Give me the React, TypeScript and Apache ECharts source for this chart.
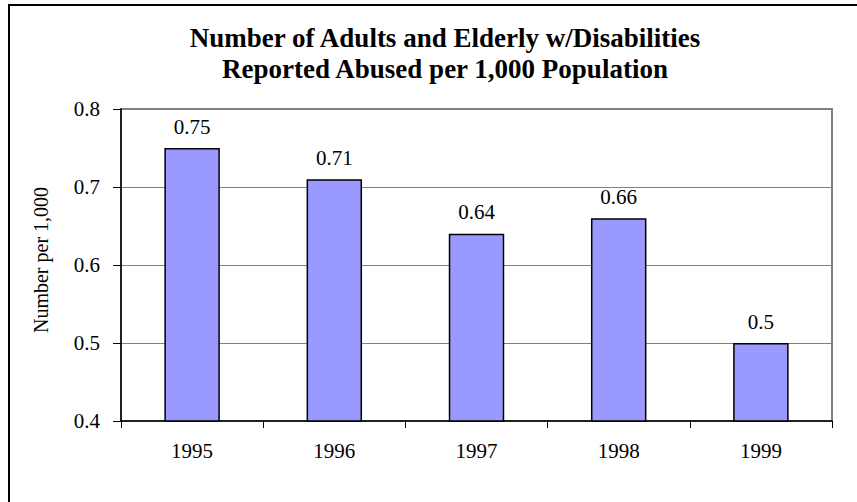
import React, { useEffect, useRef } from "react";
import * as echarts from "echarts";

const categories = ["1995", "1996", "1997", "1998", "1999"];
const values = [0.75, 0.71, 0.64, 0.66, 0.5];
const yTicks = [0.4, 0.5, 0.6, 0.7, 0.8];
const titleLines = [
  "Number of Adults and Elderly w/Disabilities",
  "Reported Abused per 1,000 Population",
];
const yAxisName = "Number per 1,000";

const FONT = "'Liberation Serif', 'Times New Roman', serif";

export default function App() {
  const ref = useRef<HTMLDivElement>(null);
  useEffect(() => {
    if (!ref.current) return;
    const chart = echarts.init(ref.current, null, { renderer: "svg" });
    chart.setOption({
      animation: false,
      backgroundColor: "#fff",
      title: {
        text: titleLines.join("\n"),
        left: 440,
        top: 17,
        textAlign: "center",
        textStyle: {
          fontFamily: FONT,
          fontWeight: "bold",
          fontSize: 27,
          lineHeight: 31.5,
          color: "#000",
        },
      },
      graphic: [
        {
          type: "rect",
          shape: { x: 9, y: 5, width: 900, height: 600 },
          style: { fill: "none", stroke: "#000", lineWidth: 2 },
          silent: true,
          z: 100,
        },
      ],
      grid: {
        left: 121,
        top: 109,
        right: 25,
        bottom: 81,
        show: true,
        borderColor: "#808080",
        borderWidth: 2,
        backgroundColor: "transparent",
      },
      xAxis: {
        type: "category",
        data: categories,
        boundaryGap: true,
        axisLine: { lineStyle: { color: "#000", width: 1.5 } },
        axisTick: { show: true, length: 7, inside: false, lineStyle: { color: "#000" } },
        axisLabel: {
          fontFamily: FONT,
          fontSize: 21,
          color: "#000",
          margin: 19,
        },
        splitLine: { show: false },
      },
      yAxis: {
        type: "value",
        min: yTicks[0],
        max: yTicks[yTicks.length - 1],
        interval: 0.1,
        name: yAxisName,
        nameLocation: "middle",
        nameGap: 70,
        nameRotate: 90,
        nameTextStyle: {
          fontFamily: FONT,
          fontSize: 20,
          color: "#000",
          padding: [0, 0, 0, 10],
        },
        axisLine: { show: true, lineStyle: { color: "#000", width: 1.5 } },
        axisTick: { show: true, length: 8, inside: false, lineStyle: { color: "#000" } },
        axisLabel: {
          fontFamily: FONT,
          fontSize: 21,
          color: "#000",
          margin: 21,
          formatter: (v: number) => v.toFixed(1),
        },
        splitLine: { show: true, lineStyle: { color: "#808080", width: 1 } },
      },
      series: [
        {
          type: "bar",
          data: values,
          barWidth: "39%",
          itemStyle: { color: "#9999FF", borderColor: "#000", borderWidth: 1.5 },
          label: {
            show: true,
            position: "top",
            distance: 11,
            fontFamily: FONT,
            fontSize: 21,
            color: "#000",
            formatter: (p: any) => String(p.value),
          },
        },
      ],
    });
    return () => chart.dispose();
  }, []);
  return (
    <div
      ref={ref}
      style={{ position: "absolute", left: 0, top: 0, width: 857, height: 502 }}
    />
  );
}
